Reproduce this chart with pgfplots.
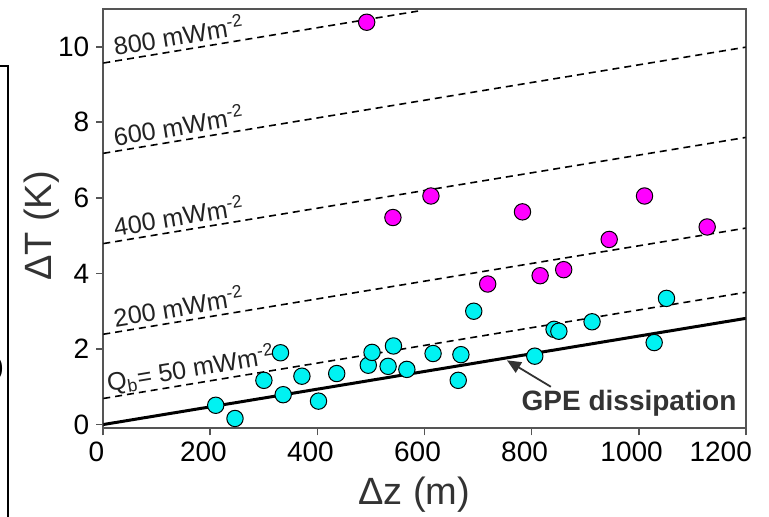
\documentclass[border=0pt]{standalone}
\usepackage{fontspec}
\setmainfont{Liberation Sans}
\usepackage{pgfplots}
\pgfplotsset{compat=1.18}
\usetikzlibrary{arrows.meta}
\definecolor{axgray}{HTML}{555555}
\definecolor{txtgray}{HTML}{333333}
\definecolor{lblgray}{HTML}{222222}
\definecolor{cyanpt}{HTML}{00F2F2}
\definecolor{magpt}{HTML}{FF00FF}

\pgfplotstableread{
dz dT
210 0.51
246 0.16
300 1.17
331 1.90
336 0.79
371 1.28
402 0.62
436 1.35
495 1.57
502 1.91
532 1.54
542 2.08
567 1.46
616 1.88
663 1.17
668 1.85
692 3.00
806 1.81
842 2.52
851 2.47
913 2.72
1029 2.17
1052 3.34
}\cyandata

\pgfplotstableread{
dz dT
492 10.65
541 5.48
612 6.05
718 3.72
783 5.63
816 3.94
860 4.10
945 4.90
1011 6.05
1128 5.23
}\magdata

\begin{document}
\begin{tikzpicture}
\useasboundingbox (-51.65pt,-43.85pt) rectangle (332.85pt,214.15pt);
% edge of the neighbouring panel
\draw[black, line width=1pt] (-52pt,181.3pt) -- (-47.5pt,181.3pt) -- (-47.5pt,-45pt);
\node[anchor=east, inner sep=0pt, font=\bfseries\fontsize{22}{24}\selectfont] at (-49.1pt,32pt) {b};
\begin{axis}[
  scale only axis, width=321.2pt, height=209.65pt,
  xmin=0, xmax=1200, ymin=-0.1, ymax=11,
  xtick={0,200,...,1000}, ytick={0,2,...,10},
  extra x ticks={1200},
  extra x tick style={xticklabel style={xshift=-9pt}},
  tick align=outside, tick pos=left, major tick length=3.5pt,
  axis line style={axgray, line width=0.9pt},
  every tick/.style={axgray, line width=0.9pt},
  ticklabel style={font=\fontsize{14}{16}\selectfont},
  xticklabel style={xshift=-3.5pt},
  /pgf/number format/assume math mode=true,
  /pgf/number format/1000 sep={},
  xlabel={Δz (m)}, ylabel={ΔT (K)},
  label style={font=\fontsize{19}{22}\selectfont, text=txtgray},
  xlabel style={at={(axis description cs:0.484,-0.159)}, anchor=center},
  ylabel style={at={(axis description cs:-0.0954,0.4825)}, anchor=center, rotate=0},
]
\addplot[black, line width=1.5pt] coordinates {(0,0) (1200,2.81)};
\addplot[black, line width=0.8pt, dash pattern=on 3.5pt off 2.5pt] coordinates {(0,0.69) (1200,3.50)};
\addplot[black, line width=0.8pt, dash pattern=on 3.5pt off 2.5pt] coordinates {(0,2.39) (1200,5.20)};
\addplot[black, line width=0.8pt, dash pattern=on 3.5pt off 2.5pt] coordinates {(0,4.79) (1200,7.60)};
\addplot[black, line width=0.8pt, dash pattern=on 3.5pt off 2.5pt] coordinates {(0,7.18) (1200,9.99)};
\addplot[black, line width=0.8pt, dash pattern=on 3.5pt off 2.5pt] coordinates {(0,9.57) (590,10.95)};

\addplot[only marks, mark=*, mark size=4.1pt, mark options={fill=cyanpt, draw=black, line width=0.5pt}] table[x=dz, y=dT] {\cyandata};
\addplot[only marks, mark=*, mark size=4.1pt, mark options={fill=magpt, draw=black, line width=0.5pt}] table[x=dz, y=dT] {\magdata};

\begin{scope}[every node/.style={rotate=9.4, anchor=base west, inner sep=0pt, text=lblgray, font=\fontsize{12.6}{14}\selectfont}]
\node at (axis cs:22,9.76) {800 mWm\textsuperscript{-2}};
\node at (axis cs:22,7.37) {600 mWm\textsuperscript{-2}};
\node at (axis cs:22,4.98) {400 mWm\textsuperscript{-2}};
\node at (axis cs:22,2.58) {200 mWm\textsuperscript{-2}};
\node at (axis cs:9,0.88) {Q\textsubscript{b}= 50 mWm\textsuperscript{-2}};
\end{scope}

\draw[txtgray, line width=0.9pt, -{Triangle[length=7pt,width=6pt]}] (axis cs:836,1.0) -- (axis cs:754,1.70);
\node[text=txtgray, font=\bfseries\fontsize{14}{16}\selectfont] at (axis cs:982,0.556) {GPE dissipation};
\end{axis}
\end{tikzpicture}
\end{document}
